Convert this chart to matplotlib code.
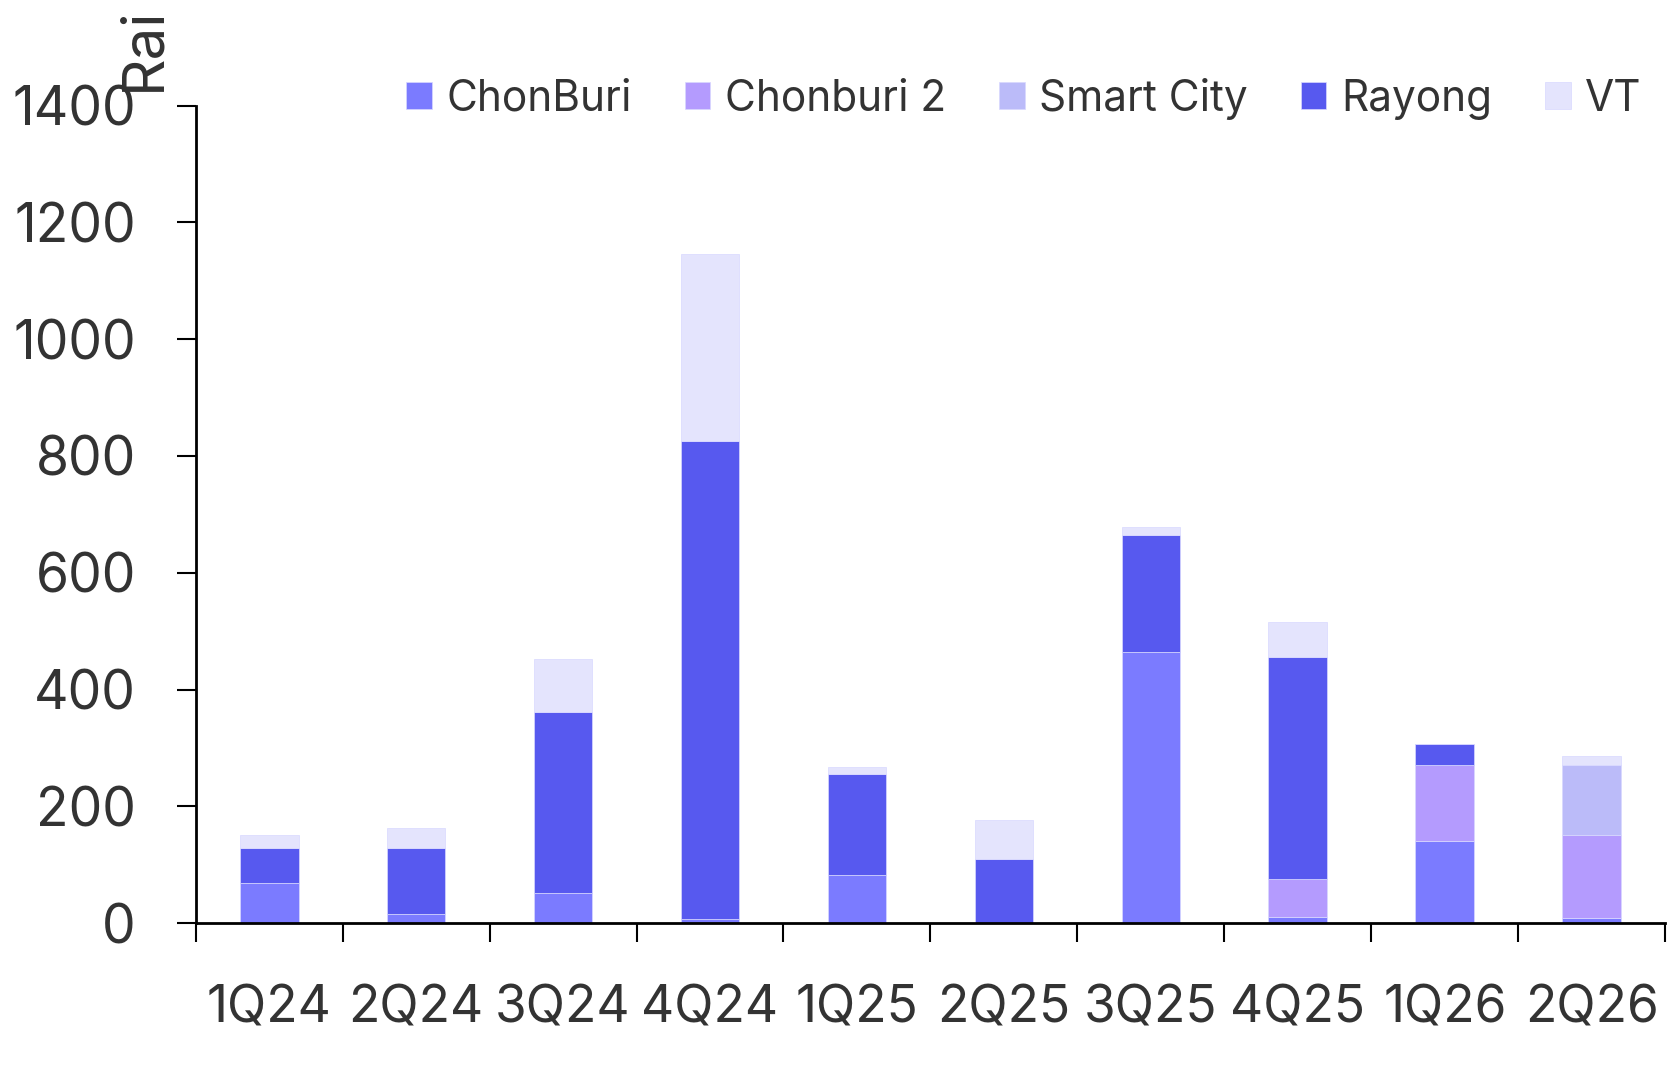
import matplotlib.pyplot as plt
import numpy as np

plt.rcParams['font.family'] = ['Inter', 'DejaVu Sans']

quarters = ['1Q24', '2Q24', '3Q24', '4Q24', '1Q25', '2Q25', '3Q25', '4Q25', '1Q26', '2Q26']
chonburi = [68, 15, 51, 7, 82, 0, 465, 11, 140, 9]
chonburi2 = [0, 0, 0, 0, 0, 0, 0, 64, 130, 141]
smart_city = [0, 0, 0, 0, 0, 0, 0, 0, 0, 120]
rayong = [60, 113, 310, 818, 173, 110, 199, 381, 37, 0]
vt = [22, 34, 91, 321, 13, 66, 15, 60, 0, 16]

series = [
    ('ChonBuri', chonburi, '#7B7BFF'),
    ('Chonburi 2', chonburi2, '#B49BFE'),
    ('Smart City', smart_city, '#BBBBF9'),
    ('Rayong', rayong, '#5759EF'),
    ('VT', vt, '#E4E4FD'),
]

fig = plt.figure(figsize=(16.72, 10.84), dpi=100)
ax = fig.add_axes([0.117, 0.1485, 0.879, 0.754])

x = np.arange(len(quarters))
bottom = np.zeros(len(quarters))
for name, vals, col in series:
    vals = np.array(vals, dtype=float)
    ax.bar(x, vals, width=0.4, bottom=bottom, color=col, label=name,
           edgecolor='#D8D8FF', linewidth=0.5)
    bottom += vals

ax.set_xlim(-0.5, len(quarters) - 0.5)
ax.set_ylim(0, 1400)
ax.set_yticks(range(0, 1401, 200))

# boundary ticks without labels, labels centred on the bars
ax.set_xticks(np.arange(-0.5, len(quarters), 1.0))
ax.set_xticklabels([])
ax.set_xticks(x, minor=True)
ax.set_xticklabels(quarters, minor=True)
ax.tick_params(axis='x', which='major', length=14, width=1.5, direction='out')
ax.tick_params(axis='x', which='minor', length=0, pad=44, labelsize=37, labelcolor='#333333')
ax.tick_params(axis='y', length=14, width=1.5, pad=29, labelsize=38.5, labelcolor='#333333')

for s in ['top', 'right']:
    ax.spines[s].set_visible(False)
for s in ['left', 'bottom']:
    ax.spines[s].set_linewidth(2)

ax.text(-0.035, 1.018, 'Rai', rotation=90, transform=ax.transAxes,
        ha='center', va='bottom', fontsize=42, color='#333333')

leg = fig.legend(loc='center right', bbox_to_anchor=(0.982, 0.909), ncol=5,
                 frameon=False, fontsize=30.5, handlelength=0.6, handleheight=0.6,
                 handletextpad=0.35, columnspacing=1.25, borderpad=0, borderaxespad=0)
for t in leg.get_texts():
    t.set_color('#333333')

fig.savefig('out.png', dpi=100)
